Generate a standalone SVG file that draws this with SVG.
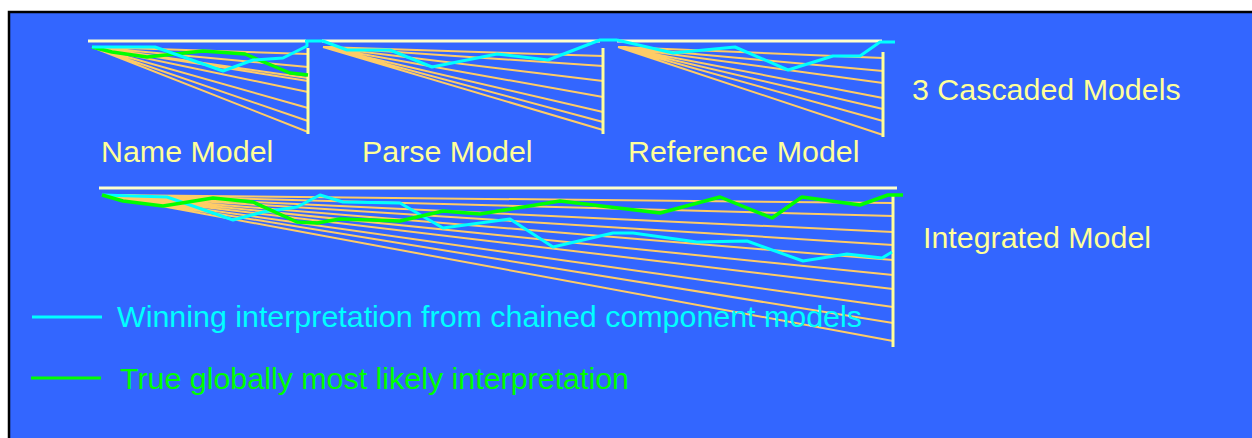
<svg xmlns="http://www.w3.org/2000/svg" width="1252" height="438" viewBox="0 0 1252 438">
<style>
.fan{stroke:#FFCC66;stroke-width:2;fill:none}
.bar{stroke:#FFFFCC;stroke-width:3;fill:none}
.vbar{stroke:#FFFF99;stroke-width:3;fill:none}
.cy{stroke:#00FFFF;stroke-width:3;fill:none;stroke-linejoin:round}
.gr{stroke:#00FF00;stroke-width:3.5;fill:none;stroke-linejoin:round}
.lbl{font-family:"Liberation Sans",Arial,sans-serif;font-size:30.4px;fill:#FFFF99}
.leg{font-family:"Liberation Sans",Arial,sans-serif;font-size:30.4px}
</style>
<rect x="0" y="0" width="1252" height="438" fill="#FFFFFF"/>
<rect x="9" y="12" width="1262" height="440" fill="#3366FF" stroke="#000000" stroke-width="2.5"/>

<g id="name-model">
<line class="bar" x1="88" y1="41" x2="306" y2="41"/>
<path class="fan" d="M92,47 L308,54 M92,47 L308,67 M92,47 L308,78 M92,47 L308,81 M92,47 L308,92 M92,47 L308,108 M92,47 L308,121 M92,47 L308,132"/>
<line class="vbar" x1="308" y1="48" x2="308" y2="134"/>
<path class="gr" d="M92,47 L112,52 L147,57 L203,51 L245,54 L290,73 L308,75"/>
<path class="cy" d="M92,47 L155,47 L223,71 L253,60 L283,58 L307,46 L307,42"/>
<text class="lbl" x="101" y="162">Name Model</text>
</g>

<g id="parse-model">
<line class="bar" x1="322" y1="41" x2="600" y2="41"/>
<path class="fan" d="M323,47 L603,56 M323,47 L603,66 M323,47 L603,81 M323,47 L603,97 M323,47 L603,112 M323,47 L603,122 M323,47 L603,130"/>
<line class="vbar" x1="603" y1="48" x2="603" y2="134"/>
<path class="cy" d="M305,41 L323,41 L347,50 L390,50 L432,67 L497,54 L548,60 L600,40 L617,40"/>
<text class="lbl" x="362" y="162">Parse Model</text>
</g>

<g id="reference-model">
<line class="bar" x1="617" y1="41" x2="882" y2="41"/>
<path class="fan" d="M618,47 L883,58 M618,47 L883,71 M618,47 L883,83 M618,47 L883,98 M618,47 L883,109 M618,47 L883,121 M618,47 L883,135"/>
<line class="vbar" x1="883" y1="52" x2="883" y2="137"/>
<path class="cy" d="M617,40 L673,53 L735,47 L788,70 L833,56 L860,56 L880,42 L895,42"/>
<text class="lbl" x="628" y="162">Reference Model</text>
</g>

<g id="integrated-model">
<line class="bar" x1="99" y1="188" x2="897" y2="188"/>
<path class="fan" d="M102,195 L893,203 M102,195 L893,216 M102,195 L893,232 M102,195 L893,245 M102,195 L893,260 M102,195 L893,275 M102,195 L893,289 M102,195 L893,307 M102,195 L893,323 M102,195 L893,341"/>
<line class="vbar" x1="893" y1="196" x2="893" y2="347"/>
<path class="cy" d="M102,195 L167,197 L233,220 L263,212 L297,207 L320,195 L343,202 L400,203 L443,228 L480,223 L510,219 L553,247 L613,233 L633,233 L697,242 L747,241 L803,261 L847,254 L882,258 L892,252"/>
<path class="gr" d="M102,195 L123,201 L163,206 L213,198 L253,202 L297,222 L317,223 L340,219 L400,221 L443,211 L480,214 L560,201 L660,213 L720,197 L772,218 L802,197 L860,205 L888,195 L903,195"/>
<text class="lbl" x="923" y="248">Integrated Model</text>
</g>

<g id="title">
<text class="lbl" x="912" y="100">3 Cascaded Models</text>
</g>

<g id="legend">
<line x1="32" y1="317" x2="102" y2="317" stroke="#00FFFF" stroke-width="3"/>
<text class="leg" x="117" y="327" fill="#00FFFF">Winning interpretation from chained component models</text>
<line x1="31" y1="378" x2="101" y2="378" stroke="#00FF00" stroke-width="3"/>
<text class="leg" x="120" y="389" fill="#00FF00">True globally most likely interpretation</text>
</g>
</svg>
